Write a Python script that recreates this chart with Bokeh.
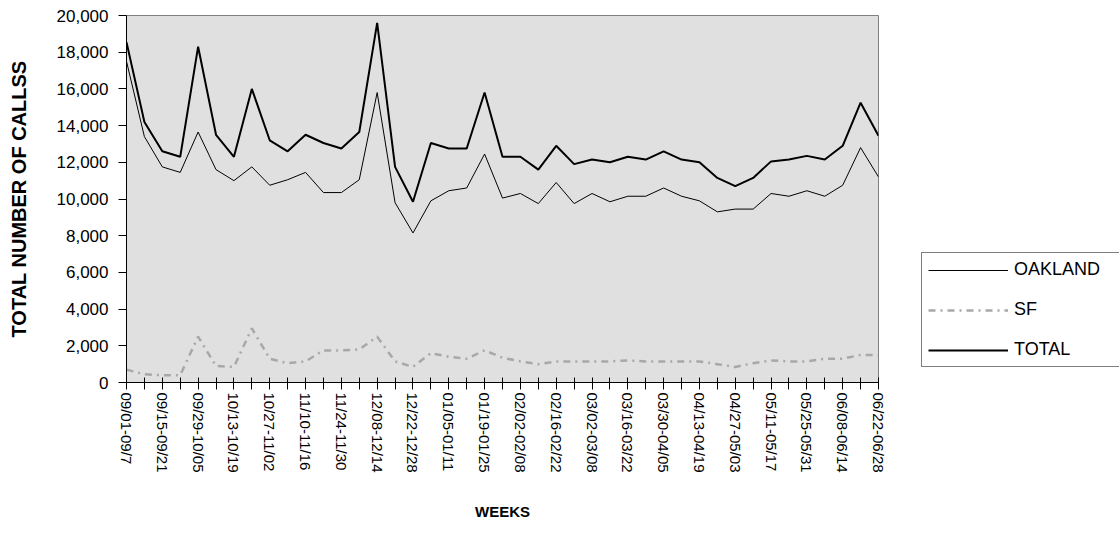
from bokeh.plotting import figure
from bokeh.models import (ColumnDataSource, FixedTicker, NumeralTickFormatter,
                          Range1d, Legend, LegendItem)
from bokeh.embed import file_html
from bokeh.resources import INLINE

# Weekly call volumes, Sept through June
weeks = [
    "09/01-09/7", "09/08-09/14", "09/15-09/21", "09/22-09/28", "09/29-10/05",
    "10/06-10/12", "10/13-10/19", "10/20-10/26", "10/27-11/02", "11/03-11/09",
    "11/10-11/16", "11/17-11/23", "11/24-11/30", "12/01-12/07", "12/08-12/14",
    "12/15-12/21", "12/22-12/28", "12/29-01/04", "01/05-01/11", "01/12-01/18",
    "01/19-01/25", "01/26-02/01", "02/02-02/08", "02/09-02/15", "02/16-02/22",
    "02/23-03/01", "03/02-03/08", "03/09-03/15", "03/16-03/22", "03/23-03/29",
    "03/30-04/05", "04/06-04/12", "04/13-04/19", "04/20-04/26", "04/27-05/03",
    "05/04-05/10", "05/11-05/17", "05/18-05/24", "05/25-05/31", "06/01-06/07",
    "06/08-06/14", "06/15-06/21", "06/22-06/28",
]

oakland = [17500, 13400, 11750, 11450, 13650, 11600, 11000, 11750, 10750, 11050,
           11450, 10350, 10350, 11050, 15800, 9800, 8150, 9900, 10450, 10600,
           12450, 10050, 10300, 9750, 10900, 9750, 10300, 9850, 10150, 10150,
           10600, 10150, 9900, 9300, 9450, 9450, 10300, 10150, 10450, 10150,
           10750, 12800, 11200]

sf = [700, 450, 400, 400, 2500, 900, 850, 2950, 1300, 1050,
      1150, 1750, 1750, 1800, 2500, 1150, 850, 1600, 1400, 1300,
      1750, 1350, 1150, 1000, 1150, 1150, 1150, 1150, 1200, 1150,
      1150, 1150, 1150, 1000, 850, 1050, 1200, 1150, 1150, 1300,
      1300, 1500, 1500]

total = [18550, 14200, 12600, 12300, 18300, 13500, 12300, 16000, 13200, 12600,
         13500, 13050, 12750, 13650, 19600, 11750, 9850, 13050, 12750, 12750,
         15800, 12300, 12300, 11600, 12900, 11900, 12150, 12000, 12300, 12150,
         12600, 12150, 12000, 11150, 10700, 11150, 12050, 12150, 12350, 12150,
         12900, 15250, 13450]

y_ticks = list(range(0, 20001, 2000))

FONT = "Liberation Sans"

idx = list(range(len(weeks)))
source = ColumnDataSource(data=dict(idx=idx, oakland=oakland, sf=sf, total=total))

p = figure(frame_width=752, frame_height=367, output_backend="svg", toolbar_location=None,
           x_range=Range1d(0, len(weeks) - 1), y_range=Range1d(0, 20000),
           min_border_left=126, min_border_right=0,
           min_border_top=15, min_border_bottom=174)

p.background_fill_color = "#e0e0e0"
p.border_fill_color = "white"
p.outline_line_color = "#808080"
p.outline_line_width = 1
p.xgrid.visible = False
p.ygrid.visible = False

r_sf = p.line("idx", "sf", source=source, line_color="#a8a8a8", line_width=2.5,
              line_dash="7 5 2 5")
r_oak = p.line("idx", "oakland", source=source, line_color="black", line_width=1)
r_tot = p.line("idx", "total", source=source, line_color="black", line_width=2)

# y axis
ya = p.yaxis[0]
ya.ticker = FixedTicker(ticks=y_ticks)
ya.formatter = NumeralTickFormatter(format="0,0")
ya.axis_line_color = "black"
ya.major_tick_line_color = "black"
ya.major_tick_out = 8
ya.major_tick_in = 0
ya.minor_tick_line_color = None
ya.major_label_text_font = FONT
ya.major_label_text_font_size = "17px"
ya.major_label_text_color = "black"
ya.major_label_standoff = 10
ya.axis_label = "TOTAL NUMBER OF CALLSS"
ya.axis_label_text_font = FONT
ya.axis_label_text_font_size = "20px"
ya.axis_label_text_font_style = "bold"
ya.axis_label_text_color = "black"
ya.axis_label_standoff = 24

# x axis: a tick for every week, a label for every other week
xa = p.xaxis[0]
xa.ticker = FixedTicker(ticks=idx)
xa.major_label_overrides = {i: (w if i % 2 == 0 else "") for i, w in enumerate(weeks)}
xa.major_label_orientation = "vertical"
xa.axis_line_color = "black"
xa.major_tick_line_color = "black"
xa.major_tick_in = 5
xa.major_tick_out = 7
xa.minor_tick_line_color = None
xa.major_label_text_font = FONT
xa.major_label_text_font_size = "15px"
xa.major_label_text_color = "black"
xa.major_label_standoff = 3
xa.axis_label = "WEEKS"
xa.axis_label_text_font = FONT
xa.axis_label_text_font_size = "15px"
xa.axis_label_text_font_style = "bold"
xa.axis_label_text_color = "black"
xa.axis_label_standoff = 27

legend = Legend(items=[
    LegendItem(label="OAKLAND", renderers=[r_oak]),
    LegendItem(label="SF", renderers=[r_sf]),
    LegendItem(label="TOTAL", renderers=[r_tot]),
], location=(43, 15))
legend.glyph_width = 80
legend.glyph_height = 20
legend.label_height = 20
legend.label_width = 100
legend.spacing = 19
legend.padding = 6
legend.margin = 0
legend.label_standoff = 6
legend.label_text_font = FONT
legend.label_text_font_size = "18px"
legend.label_text_color = "black"
legend.border_line_color = "black"
legend.border_line_width = 1
legend.background_fill_color = "white"
legend.background_fill_alpha = 1.0
p.add_layout(legend, "right")

open("out.html", "w").write(file_html(p, INLINE))
